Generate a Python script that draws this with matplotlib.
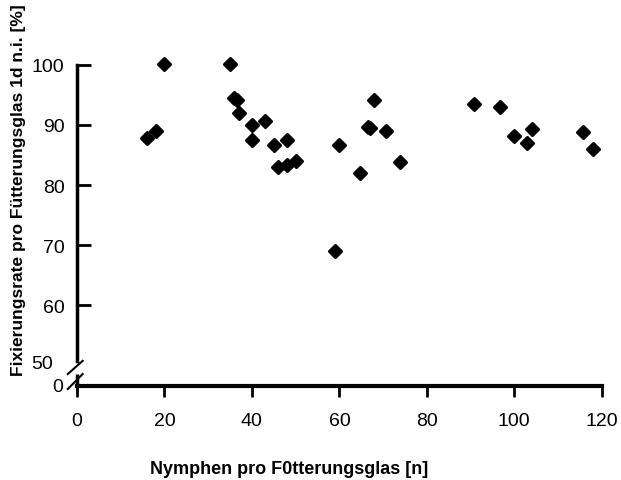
import matplotlib
matplotlib.use("Agg")
import matplotlib.pyplot as plt
from matplotlib.markers import MarkerStyle

plt.rcParams['font.family'] = ['Liberation Sans', 'DejaVu Sans']

# Nymphen pro Fütterungsglas and fixation rate (%)
nymphen = [16, 18, 20, 35, 36, 36.5, 37, 40, 40, 43, 45, 46, 48, 48, 50,
           59, 60, 64.7, 66.5, 67, 68, 70.7, 73.8, 90.9, 96.8, 100, 102.9,
           104, 115.8, 117.9]
fixierung = [87.9, 89.0, 100.2, 100.2, 94.5, 94.1, 92.0, 90.0, 87.5, 90.7,
             86.7, 83.0, 87.5, 83.4, 84.0, 69.0, 86.7, 82.0, 89.7, 89.5,
             94.2, 89.0, 83.9, 93.5, 93.0, 88.1, 87.0, 89.4, 88.8, 86.0]

xticks = [0, 20, 40, 60, 80, 100, 120]
yticks = [60, 70, 80, 90, 100]

fig = plt.figure(figsize=(6.21, 4.81), dpi=100)
ax = fig.add_axes([0.124, 0.1954, 0.845, 0.6674])

ax.plot(nymphen, fixierung, linestyle='none',
        marker=MarkerStyle('D', joinstyle='round'), markersize=5.7,
        color='black', markeredgewidth=2.2, clip_on=False)

# axis ranges: bottom of y axis is the broken "0"
y_bottom = 46.5
ax.set_xlim(0, 120)
ax.set_ylim(y_bottom, 100)

ax.spines['top'].set_visible(False)
ax.spines['right'].set_visible(False)
ax.spines['left'].set_linewidth(2.5)
ax.spines['bottom'].set_linewidth(3)
ax.spines['left'].set_bounds(50.7, 100)

ax.set_xticks(xticks)
ax.set_xticklabels([str(t) for t in xticks], fontsize=14)
ax.set_yticks(yticks)
ax.set_yticklabels([str(t) for t in yticks], fontsize=14)
ax.tick_params(axis='x', direction='out', length=8, width=2, pad=11)
ax.tick_params(axis='y', direction='in', length=10, width=2, pad=9)

# lower piece of the y axis and the break marks
ax.plot([0, 0], [y_bottom, 48.5], color='black', lw=2.5, clip_on=False,
        solid_capstyle='butt')
ax.plot([-2.1, 1.3], [48.5, 50.7], color='black', lw=1.5, clip_on=False)
ax.plot([-2.1, 1.3], [46.0, 48.5], color='black', lw=1.5, clip_on=False)
ax.text(-5.5, 50.3, '50', fontsize=14, ha='right', va='center')
ax.text(-3.2, y_bottom, '0', fontsize=14, ha='right', va='center')

fig.text(0.465, 0.024, 'Nymphen pro F0tterungsglas [n]', fontsize=13,
         fontweight='bold', ha='center', va='center')
fig.text(0.029, 0.605, 'Fixierungsrate pro Fütterungsglas 1d n.i. [%]',
         fontsize=12.5, fontweight='bold', rotation=90, ha='center',
         va='center')

fig.savefig('out.png', dpi=100)
